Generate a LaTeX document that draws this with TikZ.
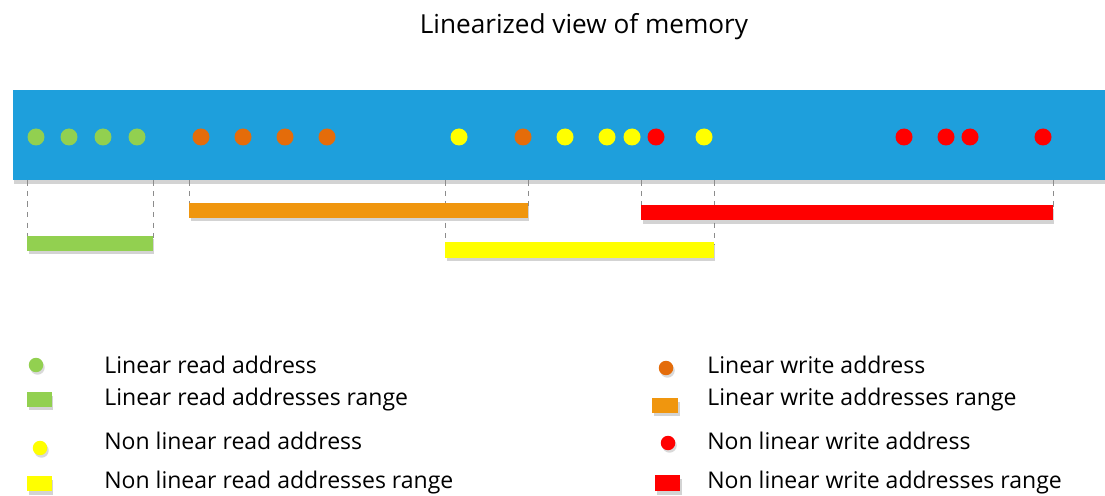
\documentclass[tikz,border=0pt]{standalone}
\usepackage{fontspec}
\setmainfont{Open Sans}
\usetikzlibrary{shadows}
\definecolor{membg}{HTML}{1E9FDC}
\definecolor{lgreen}{HTML}{92D050}
\definecolor{dorange}{HTML}{E46C0A}
\definecolor{lorange}{HTML}{F0960E}
\definecolor{nyellow}{HTML}{FFFF00}
\definecolor{nred}{HTML}{FF0000}
\tikzset{
  addr/.style={circle, fill, inner sep=0pt, minimum size=0.34cm},
  legaddr/.style={circle, fill, inner sep=0pt, minimum size=0.29cm, drop shadow={shadow xshift=0.03cm, shadow yshift=-0.05cm, opacity=0.3}},
  rangebar/.style={rectangle, inner sep=0pt, minimum height=0.3cm, drop shadow={shadow xshift=0.03cm, shadow yshift=-0.07cm, opacity=0.35}},
  guide/.style={dashed, black!45, line width=0.5pt},
  legtext/.style={anchor=west, inner sep=0pt, font=\fontsize{13.1}{15}\selectfont}
}
\begin{document}
\begin{tikzpicture}[x=0.02cm, y=-0.02cm]
\useasboundingbox (0,0) rectangle (1105,496);
\node[font=\fontsize{14.9}{17}\selectfont] (title) at (584,27) {Linearized view of memory};
% memory strip
\node[rectangle, fill=membg, inner sep=0pt, minimum width=22.0cm, minimum height=1.8cm,
  drop shadow={shadow xshift=0.02cm, shadow yshift=-0.08cm, opacity=0.35}] (mem) at (563,135) {};
% addresses
\node[addr, lgreen] (lr0) at (36,137){};
\node[addr, lgreen] (lr1) at (69,137){};
\node[addr, lgreen] (lr2) at (103,137){};
\node[addr, lgreen] (lr3) at (137,137){};
\node[addr, dorange] (lw0) at (201,137){};
\node[addr, dorange] (lw1) at (243,137){};
\node[addr, dorange] (lw2) at (285,137){};
\node[addr, dorange] (lw3) at (327,137){};
\node[addr, dorange] (lw4) at (523,137){};
\node[addr, nyellow] (nr0) at (459,137){};
\node[addr, nyellow] (nr1) at (565,137){};
\node[addr, nyellow] (nr2) at (607,137){};
\node[addr, nyellow] (nr3) at (632,137){};
\node[addr, nyellow] (nr4) at (704,137){};
\node[addr, nred] (nw0) at (656,137){};
\node[addr, nred] (nw1) at (904,137){};
\node[addr, nred] (nw2) at (946,137){};
\node[addr, nred] (nw3) at (970,137){};
\node[addr, nred] (nw4) at (1043,137){};
% guides
\coordinate (grl) at (27,240);
\coordinate (grr) at (153,240);
\coordinate (orl) at (189,206);
\coordinate (orr) at (528,206);
\coordinate (yrl) at (445,245);
\coordinate (yrr) at (714,245);
\coordinate (rrl) at (641,208);
\coordinate (rrr) at (1053,208);
\draw[guide] (grl |- mem.south) -- (grl);
\draw[guide] (grr |- mem.south) -- (grr);
\draw[guide] (orl |- mem.south) -- (orl);
\draw[guide] (orr |- mem.south) -- (orr);
\draw[guide] (yrl |- mem.south) -- (yrl);
\draw[guide] (yrr |- mem.south) -- (yrr);
\draw[guide] (rrl |- mem.south) -- (rrl);
\draw[guide] (rrr |- mem.south) -- (rrr);
% ranges
\node[rangebar, fill=lgreen, minimum width=2.52cm] (lrr) at (90,243.5){};
\node[rangebar, fill=lorange, minimum width=6.78cm] (lwr) at (358.5,210.5){};
\node[rangebar, fill=nred, minimum width=8.24cm] (nwr) at (847,213){};
\node[rangebar, fill=nyellow, minimum width=5.38cm, minimum height=0.32cm] (nrr) at (579.5,250){};
% legend
\node[legaddr, lgreen] (kla) at (36,365){};
\node[rangebar, fill=lgreen, minimum width=0.5cm] (klr) at (39.5,399.5){};
\node[legaddr, nyellow] (kna) at (40,448){};
\node[rangebar, fill=nyellow, minimum width=0.5cm] (knr) at (39.5,483.5){};
\node[legaddr, dorange] (kwa) at (666,368){};
\node[rangebar, fill=lorange, minimum width=0.52cm] (kwr) at (665,405.5){};
\node[legaddr, nred] (kxa) at (668,443){};
\node[rangebar, fill=nred, minimum width=0.5cm, minimum height=0.32cm] (kxr) at (667.5,483){};
\node[legtext] (tla) at (104,365) {Linear read address};
\node[legtext] (tlr) at (104,400) {Linear read addresses range};
\node[legtext] (tna) at (104,441) {Non linear read address};
\node[legtext] (tnr) at (104,483) {Non linear read addresses range};
\node[legtext] (twa) at (707,365) {Linear write address};
\node[legtext] (twr) at (707,400) {Linear write addresses range};
\node[legtext] (txa) at (707,441) {Non linear write address};
\node[legtext] (txr) at (707,483) {Non linear write addresses range};
\end{tikzpicture}
\end{document}
